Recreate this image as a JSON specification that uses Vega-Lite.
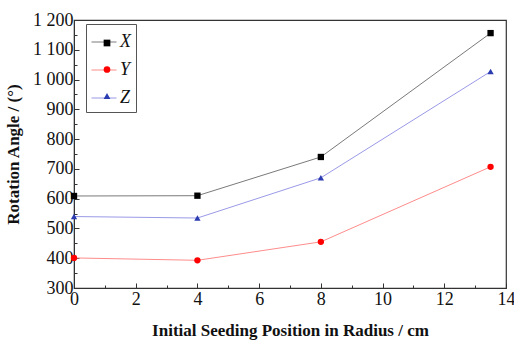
{
  "$schema": "https://vega.github.io/schema/vega-lite/v6.json",
  "width": 432,
  "height": 268,
  "autosize": {"type": "none"},
  "padding": {"left": 74, "top": 20, "right": 8, "bottom": 52},
  "background": "white",
  "config": {
    "font": "Liberation Serif",
    "view": {"stroke": "#333", "strokeWidth": 1.2},
    "axis": {"labelFont": "Liberation Serif", "titleFont": "Liberation Serif", "labelFontSize": 18, "titleFontSize": 17, "titleFontWeight": "bold", "labelColor": "#111", "titleColor": "#111", "domainColor": "#333", "tickColor": "#333", "grid": false},
    "legend": {"labelFont": "Liberation Serif", "labelFontSize": 18, "labelFontStyle": "italic", "labelColor": "#111", "padding": 5, "rowPadding": 6}
  },
  "data": {"values": [
    {"r": 0, "angle": 609, "axis": "X"},
    {"r": 4, "angle": 610, "axis": "X"},
    {"r": 8, "angle": 740, "axis": "X"},
    {"r": 13.5, "angle": 1156, "axis": "X"},
    {"r": 0, "angle": 401, "axis": "Y"},
    {"r": 4, "angle": 393, "axis": "Y"},
    {"r": 8, "angle": 455, "axis": "Y"},
    {"r": 13.5, "angle": 707, "axis": "Y"},
    {"r": 0, "angle": 540, "axis": "Z"},
    {"r": 4, "angle": 535, "axis": "Z"},
    {"r": 8, "angle": 670, "axis": "Z"},
    {"r": 13.5, "angle": 1027, "axis": "Z"}
  ]},
  "encoding": {
    "x": {"field": "r", "type": "quantitative", "scale": {"domain": [0, 14], "nice": false},
      "axis": {"title": "Initial Seeding Position in Radius / cm", "values": [0,1,2,3,4,5,6,7,8,9,10,11,12,13,14],
        "labelExpr": "datum.value % 2 === 0 ? datum.label : ''",
        "tickSize": {"condition": {"test": "datum.value % 2 === 0", "value": -5}, "value": -3},
        "labelPadding": 7, "titlePadding": 14, "labelFlush": false}},
    "y": {"field": "angle", "type": "quantitative", "scale": {"domain": [300, 1200], "nice": false},
      "axis": {"title": "Rotation Angle / (°)", "values": [300,350,400,450,500,550,600,650,700,750,800,850,900,950,1000,1050,1100,1150,1200],
        "labelExpr": "datum.value % 100 === 0 ? replace(format(datum.value, ','), ',', ' ') : ''",
        "tickSize": {"condition": {"test": "datum.value % 100 === 0", "value": -5}, "value": -3},
        "labelPadding": 6, "titlePadding": 10, "labelFlush": false}}
  },
  "layer": [
    {
      "mark": {"type": "line", "strokeWidth": 1},
      "encoding": {
        "stroke": {"field": "axis", "type": "nominal", "scale": {"domain": ["X","Y","Z"," "], "range": ["#7a7a7a", "#ff8c8c", "#9a9ae8", "#cccccc"]},
          "legend": {"title": null, "orient": "none", "legendX": 12, "legendY": 4, "values": ["X","Y","Z"], "symbolType": "stroke", "symbolSize": 625, "symbolStrokeWidth": 1, "labelOffset": 3, "strokeColor": "#555", "fillColor": "white"}}
      }
    },
    {
      "mark": {"type": "point", "filled": true, "opacity": 1},
      "encoding": {
        "color": {"field": "axis", "type": "nominal", "scale": {"domain": ["X","Y","Z"], "range": ["#000000", "#ff0000", "#2b3bb0"]},
          "legend": {"title": null, "orient": "none", "legendX": 12, "legendY": 9, "rowPadding": 8.5, "symbolSize": 45, "symbolStrokeWidth": 0, "symbolOffset": 7, "labelExpr": "''", "labelOffset": 0}},
        "shape": {"field": "axis", "type": "nominal", "scale": {"domain": ["X","Y","Z"], "range": ["square", "circle", "triangle-up"]},
          "legend": {"title": null, "orient": "none", "legendX": 12, "legendY": 9, "rowPadding": 8.5, "symbolSize": 45, "symbolStrokeWidth": 0, "symbolOffset": 7, "labelExpr": "''", "labelOffset": 0}},
        "size": {"value": 40}
      }
    }
  ]
}
